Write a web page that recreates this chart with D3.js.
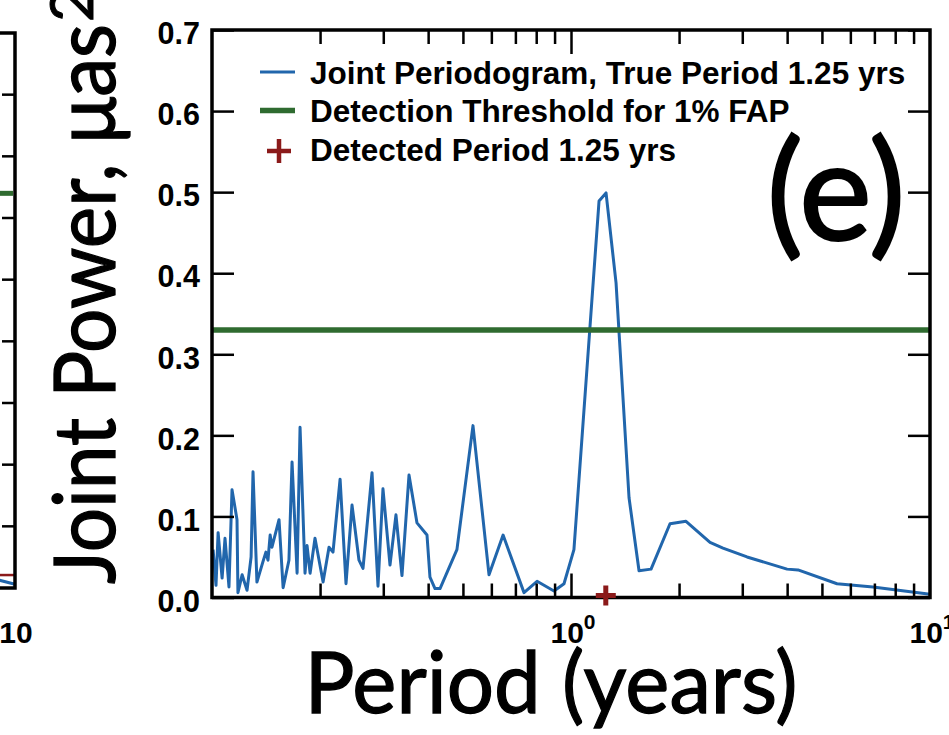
<!DOCTYPE html>
<html>
<head>
<meta charset="utf-8">
<script src="https://cdn.jsdelivr.net/npm/d3@7"></script>
<style>
  html, body { margin: 0; padding: 0; background: #ffffff; }
  svg { display: block; }
</style>
</head>
<body>
<svg id="chart" width="949" height="735"></svg>
<script>
// ---------------- data ----------------
const periods = [0.1007, 0.1026, 0.104, 0.1067, 0.1087, 0.1115, 0.1137, 0.1174, 0.1181, 0.1213,
  0.1252, 0.1285, 0.1301, 0.1334, 0.1386, 0.1413, 0.1432, 0.1452, 0.1469, 0.1537,
  0.1578, 0.1638, 0.1671, 0.1726, 0.1759, 0.1816, 0.184, 0.1876, 0.1936, 0.2039,
  0.2118, 0.2173, 0.2274, 0.2362, 0.2455, 0.2567, 0.2634, 0.2791, 0.29, 0.2994,
  0.3132, 0.3254, 0.3382, 0.3538, 0.3724, 0.3971, 0.4047, 0.418, 0.4317, 0.4811,
  0.5333, 0.5911, 0.6469, 0.7398, 0.8043, 0.8966, 0.9561, 1.019, 1.197, 1.252,
  1.335, 1.451, 1.547, 1.671, 1.887, 2.091, 2.439, 2.651, 3.093, 3.998,
  4.289, 5.508, 6.935, 10.0];
const power = [0.059, 0.015, 0.080, 0.024, 0.073, 0.013, 0.133, 0.096, 0.006, 0.028,
  0.009, 0.050, 0.155, 0.019, 0.044, 0.056, 0.046, 0.077, 0.062, 0.096,
  0.012, 0.046, 0.167, 0.030, 0.210, 0.030, 0.064, 0.030, 0.073, 0.019,
  0.062, 0.056, 0.146, 0.017, 0.114, 0.046, 0.036, 0.154, 0.014, 0.134,
  0.040, 0.102, 0.027, 0.151, 0.092, 0.077, 0.025, 0.011, 0.011, 0.059,
  0.212, 0.028, 0.077, 0.006, 0.020, 0.008, 0.017, 0.059, 0.489, 0.499,
  0.388, 0.123, 0.033, 0.035, 0.091, 0.094, 0.068, 0.061, 0.050, 0.035,
  0.034, 0.017, 0.013, 0.004];
const threshold = 0.33;
const detectedPeriod = 1.25;
const detectedPower = 0;

const yTicks = [0, 0.1, 0.2, 0.3, 0.4, 0.5, 0.6, 0.7];
const yTickLabels = ["0.0", "0.1", "0.2", "0.3", "0.4", "0.5", "0.6", "0.7"];
const xMajorTicks = [1, 10];
const xMajorLabels = [["10", "0"], ["10", "1"]];
const xMinorTicks = [0.2, 0.3, 0.4, 0.5, 0.6, 0.7, 0.8, 0.9, 2, 3, 4, 5, 6, 7, 8, 9];
const legendLabels = ["Joint Periodogram, True Period 1.25 yrs",
  "Detection Threshold for 1% FAP",
  "Detected Period 1.25 yrs"];
const xTitle = "Period (years)";
const yTitle = "Joint Power, \u03bcas";
const yTitleSup = "2";
const panelTag = "(e)";

// fragment of the neighbouring panel (left edge)
const leftTicks = [0.1, 0.2, 0.3, 0.4, 0.5, 0.6, 0.7, 0.8];
const leftThreshold = 0.64;
const leftBluePeriods = [9, 10];
const leftBluePower = [0.013, 0.006];
const leftRedPeriods = [9, 10];
const leftRedPower = [0.021, 0.021];
const leftXLabel = "10";

// ---------------- style ----------------
const BLUE = "#2166ac";
const GREEN = "#2f6b30";
const RED = "#8b1a1a";
const LABEL_FONT = "'Liberation Sans', Arial, Helvetica, sans-serif";
const TITLE_FONT = "Lato, 'Open Sans', sans-serif";

const svg = d3.select("#chart");

const x = d3.scaleLog().domain([0.1, 10]).range([212, 930]);
const y = d3.scaleLinear().domain([0, 0.7]).range([597.5, 30]);

// ---------------- left panel fragment ----------------
const lx = d3.scaleLog().domain([0.1, 10]).range([15 - 718, 15]);
const ly = d3.scaleLinear().domain([0, 0.9]).range([588, 33]);
const left = svg.append("g");
left.append("line").attr("x1", 0).attr("x2", lx(10) - 2).attr("y1", ly(leftThreshold)).attr("y2", ly(leftThreshold))
  .attr("stroke", GREEN).attr("stroke-width", 5);
left.append("path")
  .attr("d", d3.line().x(d => lx(d[0])).y(d => ly(d[1]))(leftRedPeriods.map((p, i) => [p, leftRedPower[i]])))
  .attr("fill", "none").attr("stroke", RED).attr("stroke-width", 2.5);
left.append("path")
  .attr("d", d3.line().x(d => lx(d[0])).y(d => ly(d[1]))(leftBluePeriods.map((p, i) => [p, leftBluePower[i]])))
  .attr("fill", "none").attr("stroke", BLUE).attr("stroke-width", 3);
left.selectAll("line.lt").data(leftTicks).enter().append("line")
  .attr("x1", lx(10)).attr("x2", lx(10) - 13).attr("y1", d => ly(d)).attr("y2", d => ly(d))
  .attr("stroke", "#000").attr("stroke-width", 2.5);
left.append("path")
  .attr("d", `M0,${ly(0.9)}H${lx(10)}V${ly(0)}H0`)
  .attr("fill", "none").attr("stroke", "#000").attr("stroke-width", 3.5);
left.append("text").attr("x", lx(10) + 1).attr("y", 643).attr("text-anchor", "middle")
  .attr("font-family", LABEL_FONT).attr("font-weight", "bold").attr("font-size", 30).text(leftXLabel);

// ---------------- main panel ----------------
// periodogram line
svg.append("path")
  .datum(periods.map((p, i) => [p, power[i]]))
  .attr("d", d3.line().x(d => x(d[0])).y(d => y(d[1])))
  .attr("fill", "none").attr("stroke", BLUE).attr("stroke-width", 3)
  .attr("stroke-linejoin", "round");

// threshold line
svg.append("line")
  .attr("x1", x(0.1)).attr("x2", x(10))
  .attr("y1", y(threshold)).attr("y2", y(threshold))
  .attr("stroke", GREEN).attr("stroke-width", 5.5);

// axes ticks
function styleAxis(g) {
  g.select(".domain").remove();
  g.selectAll(".tick line").attr("stroke", "#000").attr("stroke-width", 2.5);
}
const gLeft = svg.append("g").attr("transform", `translate(${x(0.1)},0)`)
  .call(d3.axisLeft(y).tickValues(yTicks).tickSizeInner(-22).tickSizeOuter(0).tickPadding(12)
    .tickFormat((d, i) => yTickLabels[i]));
styleAxis(gLeft);
gLeft.selectAll(".tick text").attr("font-family", LABEL_FONT).attr("font-weight", "bold")
  .attr("font-size", 30.5).attr("fill", "#000").attr("dy", "0.45em");

const gRight = svg.append("g").attr("transform", `translate(${x(10)},0)`)
  .call(d3.axisRight(y).tickValues(yTicks).tickSizeInner(-22).tickSizeOuter(0).tickFormat(""));
styleAxis(gRight);

[[d3.axisBottom, y(0)], [d3.axisTop, y(0.7)]].forEach(([ax, ty]) => {
  const gMin = svg.append("g").attr("transform", `translate(0,${ty})`)
    .call(ax(x).tickValues(xMinorTicks).tickSizeInner(-14).tickSizeOuter(0).tickFormat(""));
  styleAxis(gMin);
  const gMaj = svg.append("g").attr("transform", `translate(0,${ty})`)
    .call(ax(x).tickValues([1]).tickSizeInner(-24).tickSizeOuter(0).tickFormat(""));
  styleAxis(gMaj);
});

// x tick labels with superscripts
xMajorTicks.forEach((t, i) => {
  const tx = svg.append("text").attr("x", x(t) + 2).attr("y", 643).attr("text-anchor", "middle")
    .attr("font-family", LABEL_FONT).attr("font-weight", "bold").attr("font-size", 30).attr("fill", "#000");
  tx.append("tspan").text(xMajorLabels[i][0]);
  tx.append("tspan").attr("font-size", 21).attr("dy", -14).text(xMajorLabels[i][1]);
});

// frame
svg.append("rect")
  .attr("x", x(0.1)).attr("y", y(0.7))
  .attr("width", x(10) - x(0.1)).attr("height", y(0) - y(0.7))
  .attr("fill", "none").attr("stroke", "#000").attr("stroke-width", 3.5);

// detected period marker
svg.append("path")
  .attr("transform", `translate(${x(detectedPeriod)},${y(detectedPower) - 2})`)
  .attr("d", "M-10,0H10M0,-10V10")
  .attr("stroke", RED).attr("stroke-width", 5).attr("fill", "none");

// legend
const legendRows = [72, 110.5, 149];
const lg = svg.append("g");
legendLabels.forEach((lab, i) => {
  const cy = legendRows[i];
  if (i === 0) {
    lg.append("line").attr("x1", 260).attr("x2", 295).attr("y1", cy).attr("y2", cy)
      .attr("stroke", BLUE).attr("stroke-width", 3);
  } else if (i === 1) {
    lg.append("line").attr("x1", 260).attr("x2", 295).attr("y1", cy).attr("y2", cy)
      .attr("stroke", GREEN).attr("stroke-width", 5.5);
  } else {
    lg.append("path").attr("transform", `translate(279,${cy + 2})`)
      .attr("d", "M-12,0H12M0,-12V12").attr("stroke", RED).attr("stroke-width", 4.5).attr("fill", "none");
  }
  lg.append("text").attr("x", 310).attr("y", cy + 11.5)
    .attr("font-family", LABEL_FONT).attr("font-weight", "bold").attr("font-size", 31.5)
    .attr("fill", "#000").text(lab);
});

// panel tag
svg.append("text").attr("x", 836).attr("y", 240).attr("text-anchor", "middle")
  .attr("font-family", TITLE_FONT).attr("font-size", 138).attr("fill", "#000")
  .attr("stroke", "#000").attr("stroke-width", 2).text(panelTag);

// axis titles
svg.append("text").attr("x", 551).attr("y", 713).attr("text-anchor", "middle")
  .attr("font-family", TITLE_FONT).attr("font-size", 86).attr("fill", "#000")
  .attr("stroke", "#000").attr("stroke-width", 1.3)
  .attr("textLength", 493).attr("lengthAdjust", "spacingAndGlyphs").text(xTitle);

svg.append("text").attr("transform", "translate(115,584) rotate(-90)")
  .attr("text-anchor", "start")
  .attr("font-family", TITLE_FONT).attr("font-size", 86).attr("fill", "#000")
  .attr("stroke", "#000").attr("stroke-width", 1.3)
  .attr("textLength", 560).attr("lengthAdjust", "spacingAndGlyphs").text(yTitle);
svg.append("text").attr("transform", "translate(93,22) rotate(-90)")
  .attr("text-anchor", "start")
  .attr("font-family", TITLE_FONT).attr("font-size", 60).attr("fill", "#000")
  .attr("stroke", "#000").attr("stroke-width", 1).text(yTitleSup);
</script>
</body>
</html>
